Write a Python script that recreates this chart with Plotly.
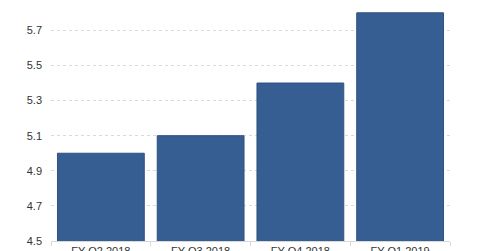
import plotly.graph_objects as go

categories = ["FY Q2 2018", "FY Q3 2018", "FY Q4 2018", "FY Q1 2019"]
values = [5.0, 5.1, 5.4, 5.8]
y_ticks = [4.5, 4.7, 4.9, 5.1, 5.3, 5.5, 5.7]
y_top_label = 5.9
y_range = [4.5, 5.873]

fig = go.Figure(go.Bar(
    x=categories, y=values,
    marker=dict(color="#375E92", line=dict(color="#2E5282", width=1)),
))

fig.update_layout(
    width=480, height=251,
    margin=dict(l=51, r=30, t=0, b=10),
    plot_bgcolor="white", paper_bgcolor="white",
    bargap=0.13,
    showlegend=False,
    font=dict(family="Liberation Sans, Arial, sans-serif", size=11, color="#333333"),
)
fig.update_yaxes(
    range=y_range, tickvals=y_ticks, ticktext=[f"{v:.1f}" for v in y_ticks],
    showgrid=True, gridcolor="#DADADA", griddash="dot", gridwidth=1,
    zeroline=False, showline=False, ticks="", ticklabelstandoff=8,
    automargin=False,
)
fig.update_xaxes(
    showline=True, linecolor="#D8D8D8", linewidth=1,
    ticks="outside", tickson="boundaries", ticklen=4, tickcolor="#D8D8D8",
    showgrid=False, automargin=False,
)
fig.add_annotation(
    x=0, xref="paper", xanchor="right", xshift=-8,
    y=(y_top_label - y_range[0]) / (y_range[1] - y_range[0]), yref="paper",
    yanchor="middle", text=f"{y_top_label:.1f}", showarrow=False,
    font=dict(size=11, color="#333333"),
)

fig.write_html("out.html")
